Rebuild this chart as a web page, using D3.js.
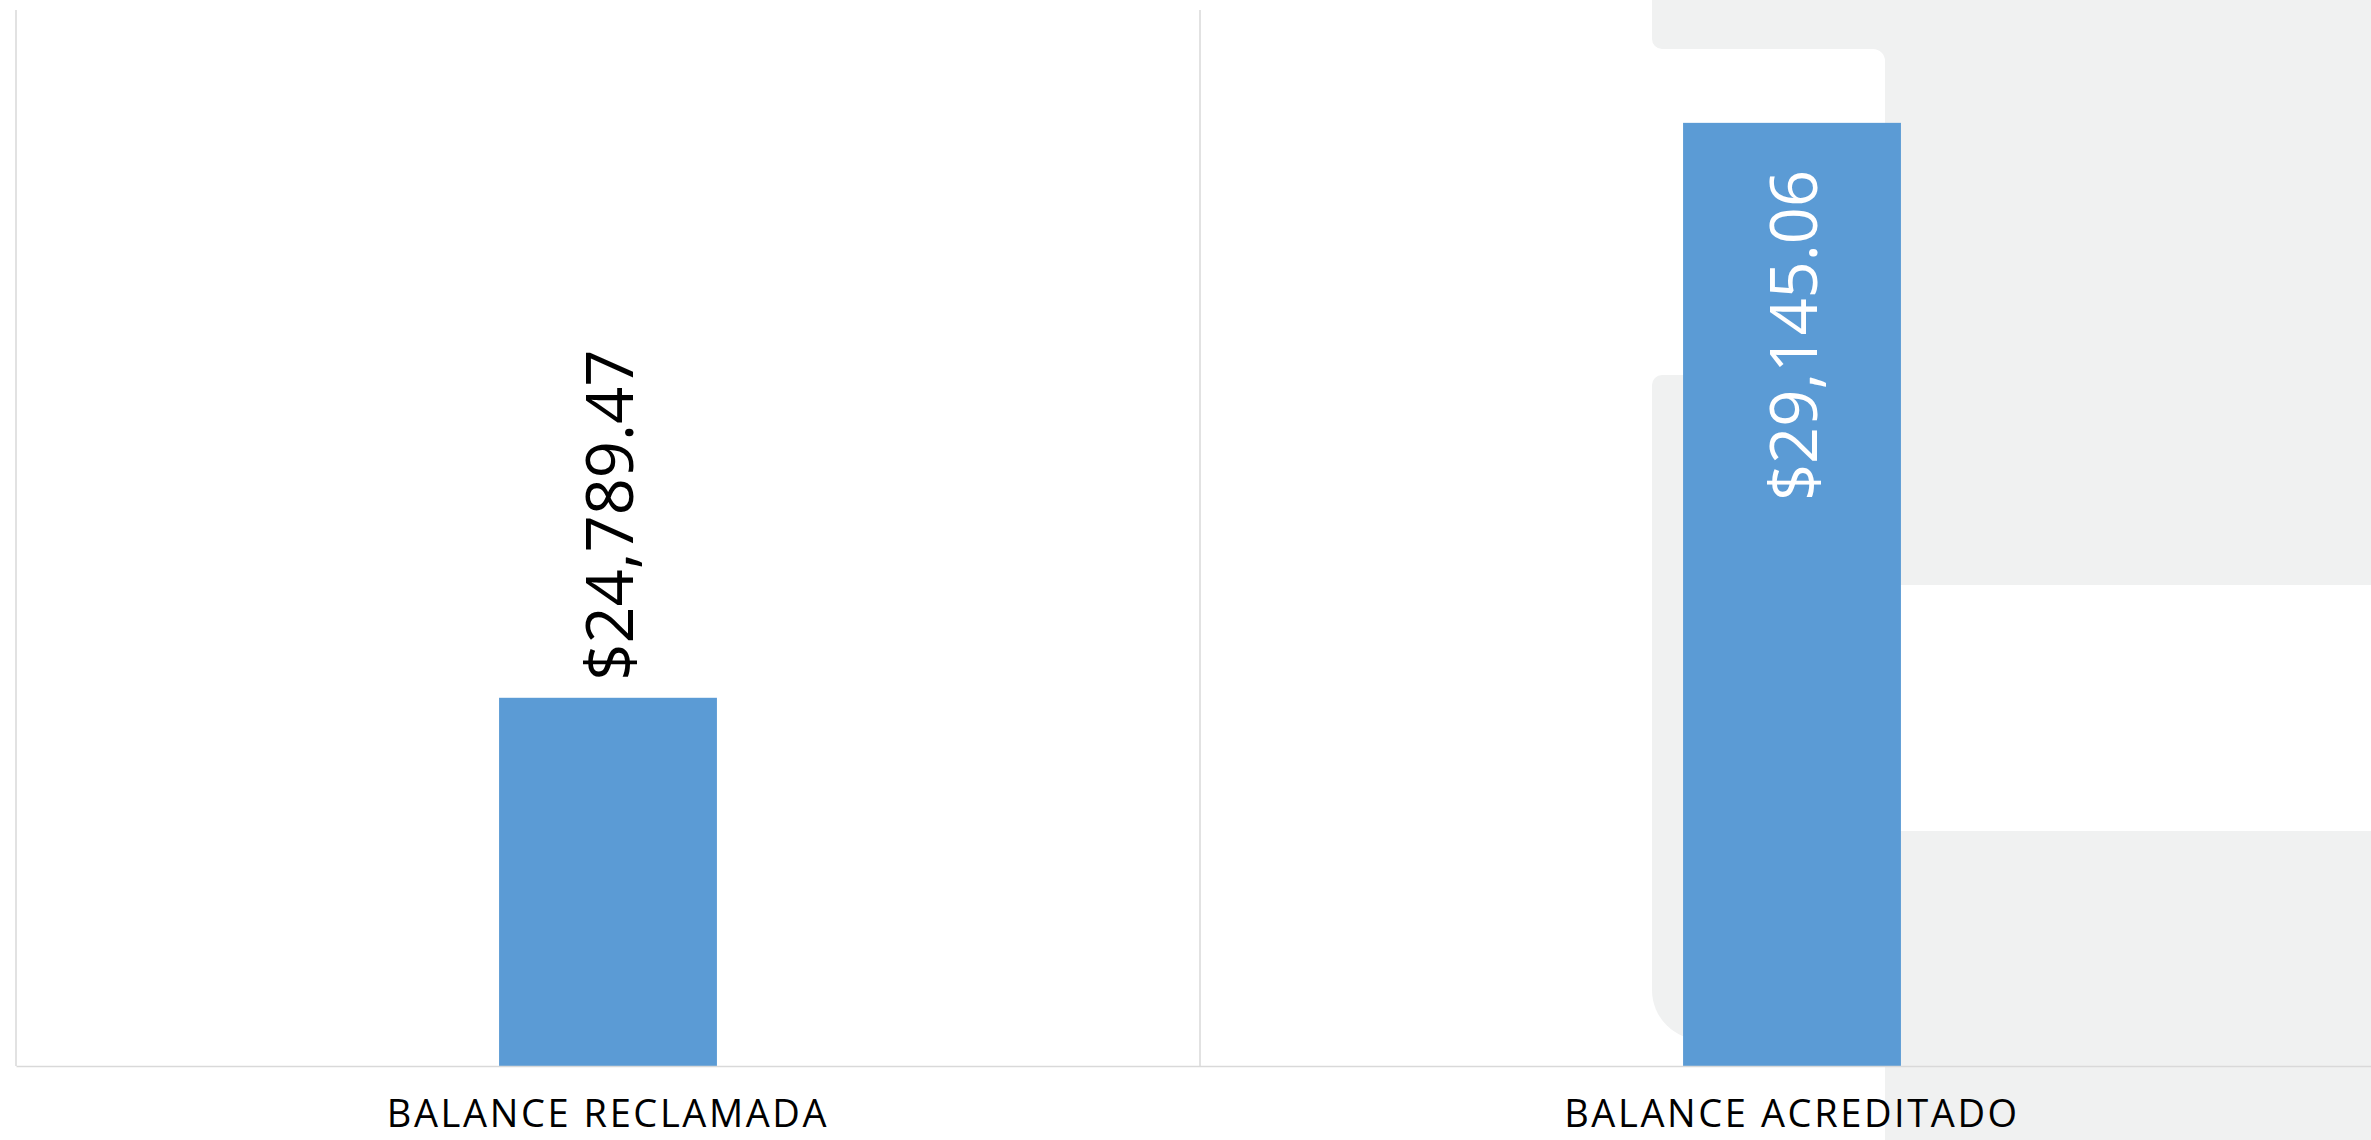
<!DOCTYPE html>
<html>
<head>
<meta charset="utf-8">
<script src="https://cdn.jsdelivr.net/npm/d3@7"></script>
<style>
  html, body { margin: 0; padding: 0; background: #ffffff; overflow: hidden; }
  svg { display: block; }
</style>
</head>
<body>
<svg id="chart" width="2371" height="1140"></svg>
<script>
// ---- data ----
const categories = ["BALANCE RECLAMADA", "BALANCE ACREDITADO"];
const values = [24789.47, 29145.06];
const valueLabels = ["$24,789.47", "$29,145.06"];
const yDomain = [22000, 30000];

// ---- layout ----
const W = 2371, H = 1140;
const plot = { left: 16, right: 2384, top: 10, bottom: 1066 };
const barRatio = 0.184;
const blue = "#5B9BD5";
const grid = "#d9d9d9";
const bgGray = "#f0f1f1";

const svg = d3.select("#chart");

// ---- background decoration (gray page panels behind the chart) ----
const bg = svg.append("g");
bg.append("path").attr("fill", bgGray)
  .attr("d", "M1652,0 H2371 V585 H1885 V61 A12,12 0 0 0 1873,49 H1662 A10,10 0 0 1 1652,39 Z");
bg.append("path").attr("fill", bgGray)
  .attr("d", "M1662,375 H1885 V1040 H1702 A50,50 0 0 1 1652,990 V385 A10,10 0 0 1 1662,375 Z");
bg.append("rect").attr("fill", bgGray)
  .attr("x", 1885).attr("y", 831).attr("width", W - 1885).attr("height", H - 831);

// ---- scales ----
const x = d3.scaleBand().domain(categories).range([plot.left, plot.right]).padding(0);
const y = d3.scaleLinear().domain(yDomain).range([plot.bottom, plot.top]);

// ---- vertical category separators ----
const edges = categories.map(c => x(c)).concat([x(categories[categories.length - 1]) + x.bandwidth()]);
svg.append("g").selectAll("line").data(edges).join("line")
  .attr("x1", d => d).attr("x2", d => d)
  .attr("y1", plot.top).attr("y2", plot.bottom)
  .attr("stroke", grid).attr("stroke-width", 1.5);

// ---- bars ----
const bw = x.bandwidth() * barRatio;
const cx = c => x(c) + x.bandwidth() / 2;
svg.append("g").selectAll("rect").data(categories).join("rect")
  .attr("x", c => cx(c) - bw / 2)
  .attr("width", bw)
  .attr("y", (c, i) => y(values[i]))
  .attr("height", (c, i) => plot.bottom - y(values[i]))
  .attr("fill", blue);

// ---- baseline (x axis) ----
const xAxis = d3.axisBottom(x).tickSize(0).tickPadding(0);
const gx = svg.append("g").attr("transform", `translate(0,${plot.bottom})`).call(xAxis);
gx.select(".domain").attr("stroke", grid).attr("stroke-width", 1.5);
gx.selectAll(".tick text")
  .attr("y", 61)
  .attr("dy", 0)
  .attr("fill", "#000")
  .style("font-family", "'Open Sans', sans-serif")
  .style("font-size", "38px")
  .style("letter-spacing", "2.6px");

// ---- value labels ----
const lbl = svg.append("g");
categories.forEach((c, i) => {
  const top = y(values[i]);
  const inside = i === 1;
  lbl.append("text")
    .attr("transform", `translate(${cx(c) + 25},${inside ? top + 47 : top - 17}) rotate(-90)`)
    .attr("text-anchor", inside ? "end" : "start")
    .attr("fill", inside ? "#ffffff" : "#000000")
    .style("font-family", "'Open Sans', sans-serif")
    .style("font-size", "65px")
    .text(valueLabels[i]);
});
</script>
</body>
</html>
